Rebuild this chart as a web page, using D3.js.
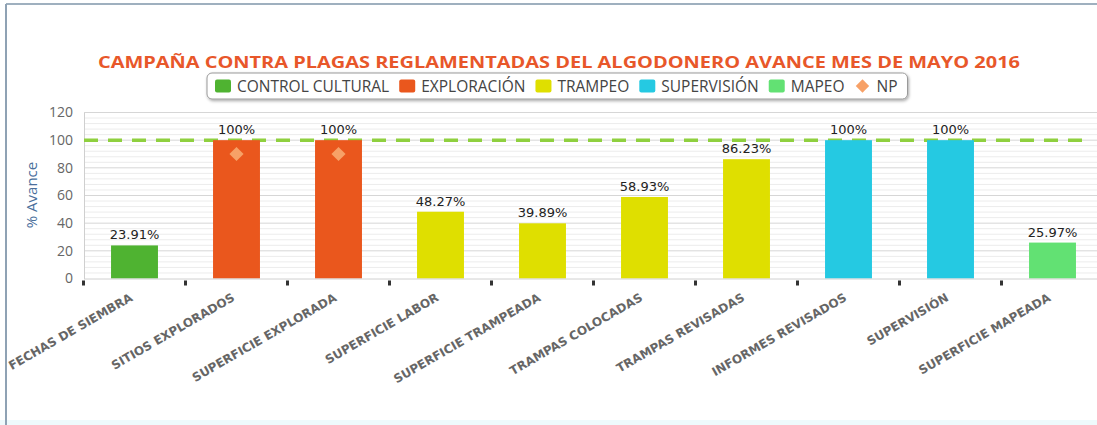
<!DOCTYPE html>
<html><head><meta charset="utf-8">
<script src="https://cdn.jsdelivr.net/npm/d3@7"></script>
<style>body{margin:0;background:#fff;}svg{display:block;}</style>
</head><body>
<svg id="c" width="1097" height="425"></svg>
<script>
const categories = ["FECHAS DE SIEMBRA","SITIOS EXPLORADOS","SUPERFICIE EXPLORADA","SUPERFICIE LABOR","SUPERFICIE TRAMPEADA","TRAMPAS COLOCADAS","TRAMPAS REVISADAS","INFORMES REVISADOS","SUPERVISIÓN","SUPERFICIE MAPEADA"];
const values = [23.91,100,100,48.27,39.89,58.93,86.23,100,100,25.97];
const seriesOf = ["CONTROL CULTURAL","EXPLORACIÓN","EXPLORACIÓN","TRAMPEO","TRAMPEO","TRAMPEO","TRAMPEO","SUPERVISIÓN","SUPERVISIÓN","MAPEO"];
const seriesNames = ["CONTROL CULTURAL","EXPLORACIÓN","TRAMPEO","SUPERVISIÓN","MAPEO","NP"];
const seriesColors = ["#4fb331","#ea571d","#dfdf00","#25c9e2","#62e173","#f7a167"];
const npCategories = ["SITIOS EXPLORADOS","SUPERFICIE EXPLORADA"];
const npValues = [90,90];
const yTicks = [0,20,40,60,80,100,120];
const targetValue = 100;
const titleText = "CAMPAÑA CONTRA PLAGAS REGLAMENTADAS DEL ALGODONERO AVANCE MES DE MAYO 2016";
const yTitle = "% Avance";

const svg = d3.select("#c");
const color = d3.scaleOrdinal(seriesNames, seriesColors);

// frame
svg.append("rect").attr("x",0).attr("y",420).attr("width",1097).attr("height",5).attr("fill","#eefafc");
svg.append("line").attr("x1",6).attr("x2",1097).attr("y1",4).attr("y2",4).attr("stroke","#9fb0bf").attr("stroke-width",2);
svg.append("line").attr("x1",6).attr("x2",6).attr("y1",4).attr("y2",425).attr("stroke","#8fa2b4").attr("stroke-width",2);

const x = d3.scaleBand(categories,[83.5,1103.5]).paddingInner(0.54).paddingOuter(0.27);
const y = d3.scaleLinear([0,120],[278.5,112.5]);
const plotL = 84, plotR = 1097;

// minor grid
const minor = d3.range(0,121,4).filter(v=>v%20!==0);
svg.append("g").selectAll("line").data(minor).join("line")
  .attr("x1",plotL).attr("x2",plotR).attr("y1",d=>y(d)).attr("y2",d=>y(d))
  .attr("stroke","#ececec").attr("stroke-width",1);
// major grid
svg.append("g").selectAll("line").data(yTicks.slice(1)).join("line")
  .attr("x1",plotL).attr("x2",plotR).attr("y1",d=>y(d)).attr("y2",d=>y(d))
  .attr("stroke","#d6d6d6").attr("stroke-width",1);

// y axis
const yAxis = svg.append("g").attr("transform",`translate(${plotL},0)`)
  .call(d3.axisLeft(y).tickValues(yTicks).tickSize(0).tickPadding(11));
yAxis.select(".domain").attr("stroke","#cfcfcf");
yAxis.selectAll("text").attr("font-family","Open Sans").attr("font-size",14).attr("fill","#666");

svg.append("text").attr("transform",`translate(37,195) rotate(-90)`).attr("text-anchor","middle")
  .attr("font-family","Open Sans").attr("font-size",15).attr("fill","#4a6f9c").text(yTitle);

// target dashed line
svg.append("line").attr("x1",plotL).attr("x2",1092).attr("y1",y(targetValue)).attr("y2",y(targetValue))
  .attr("stroke","#8fd03f").attr("stroke-width",3.5).attr("stroke-dasharray","14,10");

// bars
svg.append("g").selectAll("rect").data(categories).join("rect")
  .attr("x",d=>x(d)).attr("width",x.bandwidth())
  .attr("y",(d,i)=>y(values[i])).attr("height",(d,i)=>y(0)-y(values[i]))
  .attr("fill",(d,i)=>color(seriesOf[i]));

// data labels
svg.append("g").selectAll("text").data(categories).join("text")
  .attr("x",d=>x(d)+x.bandwidth()/2).attr("y",(d,i)=>y(values[i])-6)
  .attr("text-anchor","middle").attr("font-family","DejaVu Sans").attr("font-size",13).attr("fill","#222")
  .text((d,i)=>(+values[i].toFixed(2))+"%");

// NP diamonds
svg.append("g").selectAll("path").data(npCategories).join("path")
  .attr("transform",(d,i)=>`translate(${x(d)+x.bandwidth()/2},${y(npValues[i])}) rotate(45)`)
  .attr("d",d3.symbol(d3.symbolSquare,100)())
  .attr("fill",color("NP"));

// x axis
svg.append("line").attr("x1",plotL).attr("x2",plotR).attr("y1",y(0)+0.5).attr("y2",y(0)+0.5).attr("stroke","#d0d0d0");
const bounds = categories.map(c=>x(c)-x.step()*x.paddingInner()/2);
svg.append("g").selectAll("rect").data(bounds).join("rect")
  .attr("x",d=>d-1.5).attr("y",y(0)+2).attr("width",3).attr("height",5).attr("fill","#333");

svg.append("g").selectAll("text").data(categories).join("text")
  .attr("transform",d=>`translate(${x(d)+x.bandwidth()/2-1},300) rotate(-30)`)
  .attr("text-anchor","end").attr("font-family","DejaVu Sans").attr("font-weight","bold")
  .attr("font-size",12).attr("fill","#666").text(d=>d);

// title
svg.append("text").attr("x",559).attr("y",68).attr("text-anchor","middle")
  .attr("font-family","Open Sans").attr("font-weight","bold").attr("font-size",16)
  .attr("fill","#e8572a").attr("textLength",922).attr("lengthAdjust","spacingAndGlyphs").text(titleText);

// legend
const defs = svg.append("defs");
const f = defs.append("filter").attr("id","sh").attr("x","-5%").attr("y","-30%").attr("width","110%").attr("height","170%");
f.append("feDropShadow").attr("dx",1).attr("dy",1.5).attr("stdDeviation",1.5).attr("flood-color","#000").attr("flood-opacity",0.35);
const lg = svg.append("g");
const box = lg.append("rect").attr("y",73).attr("height",26).attr("rx",5).attr("fill","#fff")
  .attr("stroke","#9a9a9a").attr("stroke-width",1).attr("filter","url(#sh)");
let cx = 215;
seriesNames.forEach((s,i)=>{
  if (s==="NP") {
    lg.append("path").attr("transform",`translate(${cx+8},86) rotate(45)`)
      .attr("d",d3.symbol(d3.symbolSquare,90)()).attr("fill",color(s));
  } else {
    lg.append("rect").attr("x",cx).attr("y",79.5).attr("width",16).attr("height",13).attr("rx",2).attr("fill",color(s));
  }
  const t = lg.append("text").attr("x",cx+22).attr("y",91.5).attr("font-family","Open Sans").attr("font-size",15.5)
    .attr("fill","#444").text(s);
  cx += 22 + t.node().getComputedTextLength() + 10;
});
box.attr("x",207).attr("width",cx-207);
</script>
</body></html>
